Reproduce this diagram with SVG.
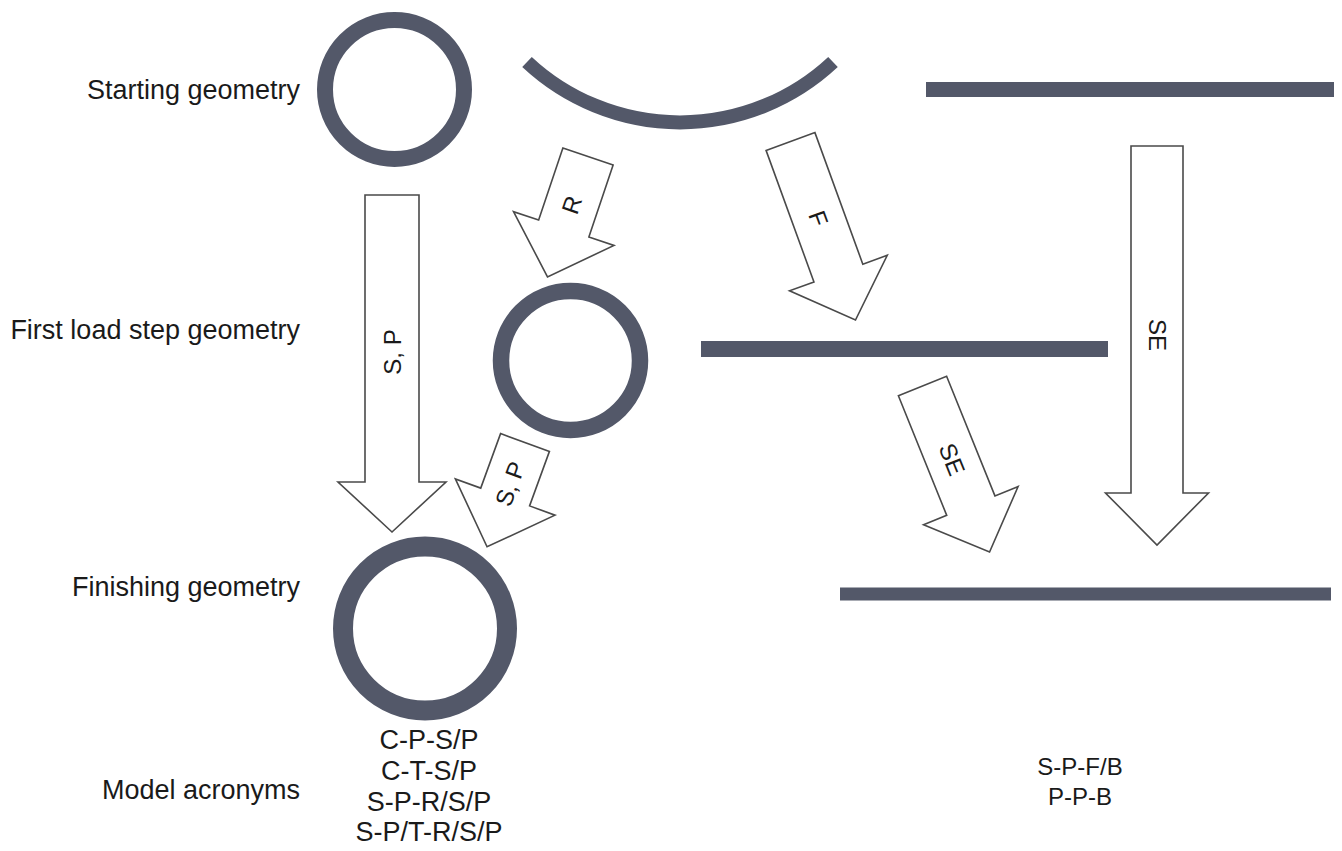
<svg xmlns="http://www.w3.org/2000/svg" width="1342" height="851" viewBox="0 0 1342 851">
<style>
.geo{fill:none;stroke:#535869}
.lbl{font-family:"Liberation Sans",Arial,sans-serif;font-size:27px;fill:#1a1a1a}
.lbl2{font-family:"Liberation Sans",Arial,sans-serif;font-size:24px;fill:#1a1a1a}
.arr{fill:#fff;stroke:#4a4a4a;stroke-width:1.6;stroke-linejoin:miter}
.at{font-family:"Liberation Sans",Arial,sans-serif;font-size:24px;fill:#1a1a1a;text-anchor:middle;dominant-baseline:central}
</style>
<rect width="1342" height="851" fill="#fff"/>
<g id="labels" class="lbl" text-anchor="end">
<text x="300" y="99">Starting geometry</text>
<text x="300" y="339">First load step geometry</text>
<text x="300" y="596">Finishing geometry</text>
<text x="300" y="799">Model acronyms</text>
</g>
<g id="geometry">
<circle id="circle-start" class="geo" cx="394.5" cy="89.5" r="69.5" stroke-width="16"/>
<path id="arc-start" class="geo" d="M527,62 A224,224 0 0 0 833,62" stroke-width="14"/>
<line id="plate-start" class="geo" x1="926" y1="89.5" x2="1334" y2="89.5" stroke-width="15"/>
<circle id="circle-first" class="geo" cx="570.5" cy="360.5" r="69.5" stroke-width="16.5"/>
<line id="plate-first" class="geo" x1="701" y1="349" x2="1108" y2="349" stroke-width="16"/>
<circle id="circle-finish" class="geo" cx="425" cy="628.5" r="82" stroke-width="20"/>
<line id="plate-finish" class="geo" x1="840" y1="594" x2="1331" y2="594" stroke-width="13"/>
</g>
<g id="connectors">
<g id="arrow-sp-big" transform="translate(392,195)">
<path class="arr" d="M-27,0 L27,0 L27,287 L54,287 L0,337 L-54,287 L-27,287 Z"/>
<text class="at" transform="translate(0,157) rotate(-90)">S, P</text>
</g>
<g id="arrow-r" transform="translate(588,156.5) rotate(18.6)">
<path class="arr" d="M-26.5,0 L26.5,0 L26.5,76 L53,76 L0,127 L-53,76 L-26.5,76 Z"/>
<text class="at" transform="translate(0,51) rotate(-90)">R</text>
</g>
<g id="arrow-f" transform="translate(790.5,141.5) rotate(-20)">
<path class="arr" d="M-26,0 L26,0 L26,140 L52,140 L0,190 L-52,140 L-26,140 Z"/>
<text class="at" transform="translate(0,82) rotate(90)">F</text>
</g>
<g id="arrow-sp-small" transform="translate(525,442.5) rotate(20)">
<path class="arr" d="M-26,0 L26,0 L26,58 L53,58 L0,111 L-53,58 L-26,58 Z"/>
<text class="at" transform="translate(0,44) rotate(-90)">S, P</text>
</g>
<g id="arrow-se-small" transform="translate(922.5,386) rotate(-22)">
<path class="arr" d="M-26,0 L26,0 L26,129 L51,129 L0,179 L-51,129 L-26,129 Z"/>
<text class="at" transform="translate(0,79) rotate(90)">SE</text>
</g>
<g id="arrow-se-big" transform="translate(1157,146)">
<path class="arr" d="M-26,0 L26,0 L26,347 L51.5,347 L0,399 L-51.5,347 L-26,347 Z"/>
<text class="at" transform="translate(0,189) rotate(90)">SE</text>
</g>
</g>
<g id="acronyms" text-anchor="middle">
<g class="lbl">
<text x="429" y="749">C-P-S/P</text>
<text x="429" y="780">C-T-S/P</text>
<text x="429" y="811">S-P-R/S/P</text>
<text x="429" y="841">S-P/T-R/S/P</text>
</g>
<g class="lbl2">
<text x="1080" y="775">S-P-F/B</text>
<text x="1080" y="805">P-P-B</text>
</g>
</g>
</svg>
